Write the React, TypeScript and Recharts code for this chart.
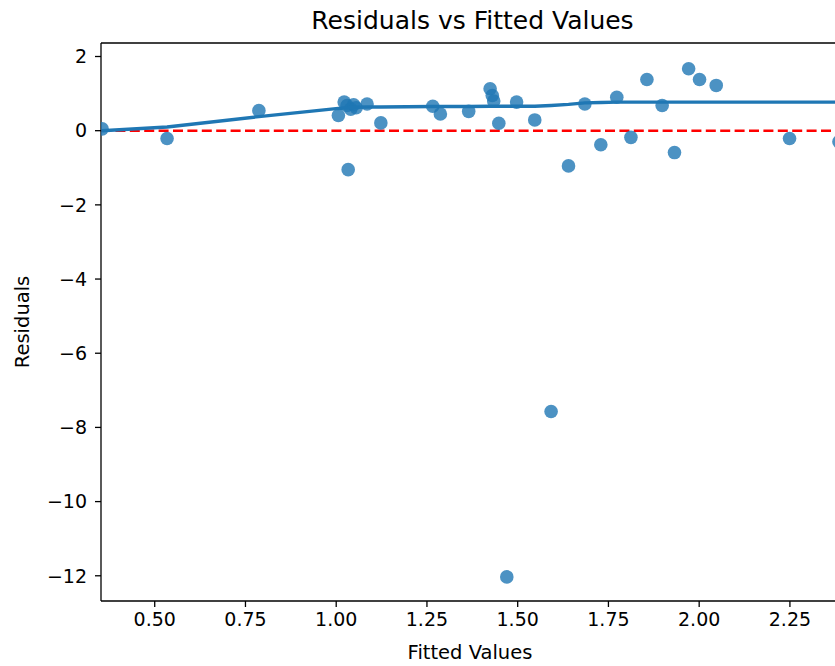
import { ReferenceLine, Scatter, ScatterChart, XAxis, YAxis } from 'recharts'

// fitted values (x), residuals (y) and the lowess smooth at each fitted value
const fitted = [
  0.355, 0.534, 0.787, 1.006, 1.022, 1.03, 1.033, 1.04, 1.048, 1.055, 1.085, 1.123,
  1.266, 1.287, 1.365, 1.424, 1.43, 1.434, 1.448, 1.47, 1.497, 1.547, 1.592, 1.64,
  1.685, 1.729, 1.773, 1.812, 1.856, 1.898, 1.932, 1.971, 2.001, 2.047, 2.249, 2.385,
]
const residuals = [
  0.05, -0.21, 0.54, 0.41, 0.77, 0.68, -1.05, 0.58, 0.7, 0.62, 0.72, 0.21,
  0.66, 0.45, 0.52, 1.13, 0.95, 0.8, 0.2, -12.03, 0.77, 0.29, -7.57, -0.95,
  0.72, -0.38, 0.9, -0.18, 1.38, 0.68, -0.59, 1.67, 1.38, 1.22, -0.21, -0.3,
]
const lowess = [
  0.0, 0.1, 0.38, 0.6, 0.61, 0.61, 0.62, 0.62, 0.63, 0.63, 0.64, 0.64,
  0.65, 0.65, 0.65, 0.66, 0.66, 0.66, 0.66, 0.66, 0.66, 0.66, 0.68, 0.71,
  0.75, 0.76, 0.77, 0.77, 0.77, 0.77, 0.77, 0.77, 0.77, 0.77, 0.77, 0.77,
]

const xTicks = [0.5, 0.75, 1.0, 1.25, 1.5, 1.75, 2.0, 2.25]
const yTicks = [2, 0, -2, -4, -6, -8, -10, -12]
const xDomain = [0.352, 2.399]
const yDomain = [-12.68, 2.364]

const points = fitted.map((x, i) => ({ x, y: residuals[i] }))
const smooth = fitted.map((x, i) => ({ x, y: lowess[i] }))

const FONT = '"DejaVu Sans", sans-serif'
const BLUE = '#1f77b4'

const Dot = (props: any) => (
  <circle cx={props.cx} cy={props.cy} r={6.8} fill={BLUE} fillOpacity={0.8} />
)
const NoDot = () => <g />

export default function App() {
  return (
    <div style={{ position: 'absolute', left: 0, top: 0, width: 835, height: 666, overflow: 'hidden', background: '#fff' }}>
      <ScatterChart
        width={860}
        height={666}
        margin={{ top: 43, right: 16, bottom: 0, left: 1 }}
        style={{ fontFamily: FONT }}
      >
        <XAxis
          type="number"
          dataKey="x"
          domain={xDomain}
          ticks={xTicks}
          allowDataOverflow
          tickFormatter={(v: number) => v.toFixed(2)}
          height={65}
          tickSize={6}
          tickMargin={6}
          axisLine={{ stroke: '#000', strokeWidth: 1.3 }}
          tickLine={{ stroke: '#000', strokeWidth: 1.3 }}
          tick={{ fill: '#000', fontSize: 19, fontFamily: FONT }}
          interval={0}
        />
        <YAxis
          type="number"
          dataKey="y"
          domain={yDomain}
          ticks={yTicks}
          allowDataOverflow
          tickFormatter={(v: number) => String(v).replace('-', '\u2212')}
          width={100}
          tickSize={6}
          tickMargin={8}
          axisLine={{ stroke: '#000', strokeWidth: 1.3 }}
          tickLine={{ stroke: '#000', strokeWidth: 1.3 }}
          tick={{ fill: '#000', fontSize: 19, fontFamily: FONT }}
          interval={0}
        />
        <ReferenceLine y={yDomain[1]} stroke="#000" strokeWidth={1.3} />
        <Scatter data={points} shape={Dot} isAnimationActive={false} />
        <Scatter
          data={smooth}
          shape={NoDot}
          line={{ stroke: BLUE, strokeWidth: 3.4 }}
          isAnimationActive={false}
        />
        <ReferenceLine y={0} stroke="#ff0000" strokeWidth={2.6} strokeDasharray="10 4.4" />
        <text x={472.5} y={29} textAnchor="middle" fontSize={25} fontFamily={FONT} fill="#000">
          Residuals vs Fitted Values
        </text>
        <text x={470} y={659} textAnchor="middle" fontSize={19.5} fontFamily={FONT} fill="#000">
          Fitted Values
        </text>
        <text
          x={29}
          y={322}
          textAnchor="middle"
          fontSize={19.5}
          fontFamily={FONT}
          fill="#000"
          transform="rotate(-90 29 322)"
        >
          Residuals
        </text>
      </ScatterChart>
    </div>
  )
}
